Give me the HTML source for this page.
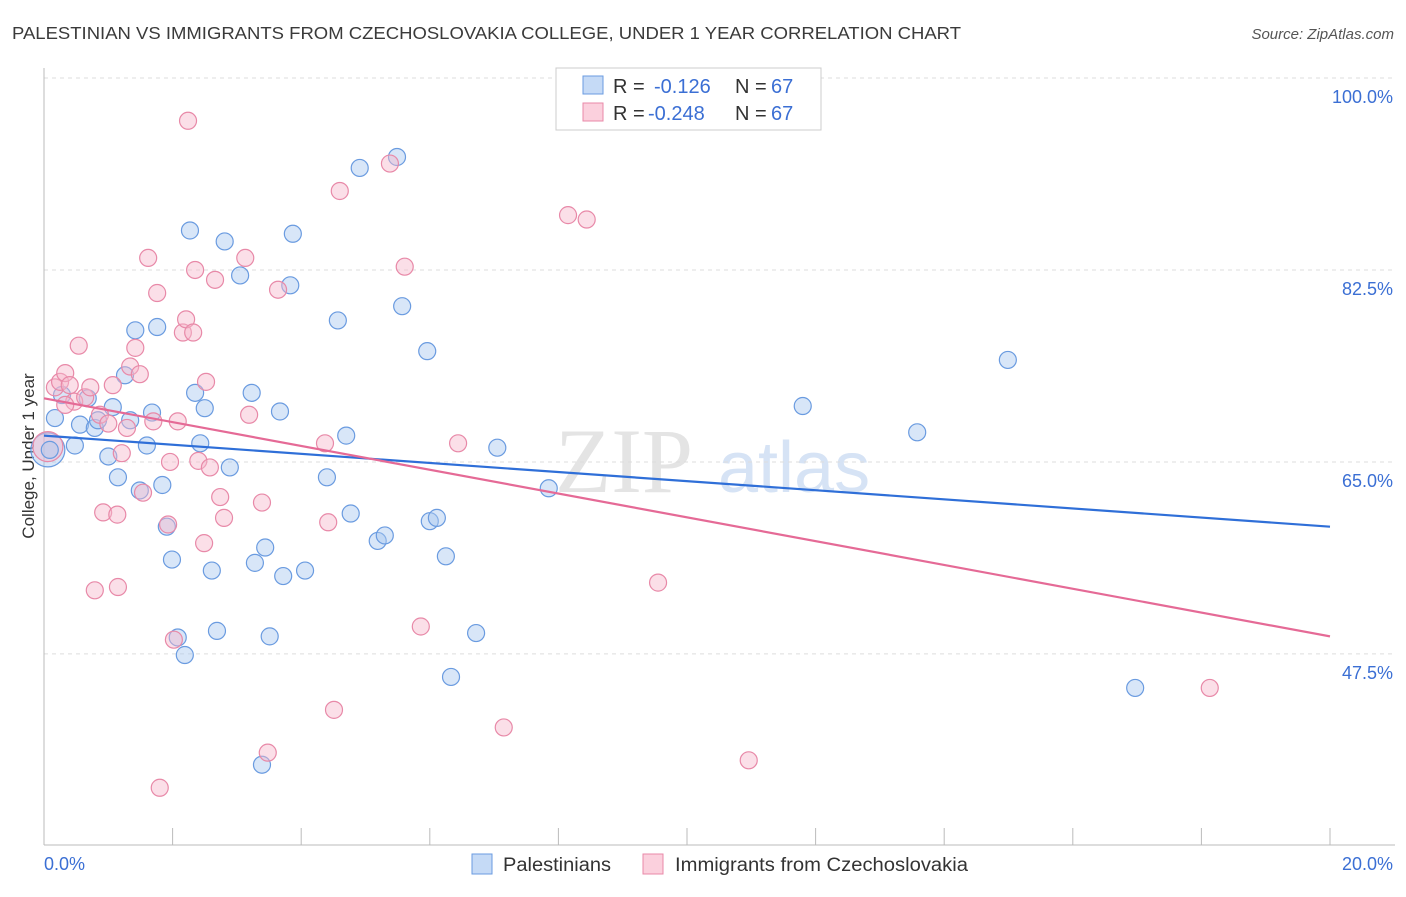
<!DOCTYPE html>
<html><head><meta charset="utf-8"><style>
body{margin:0;background:#fff;font-family:"Liberation Sans",sans-serif;}
</style></head><body>
<svg id="chart" width="1406" height="892" xmlns="http://www.w3.org/2000/svg" font-family="Liberation Sans, sans-serif">
<text x="12" y="39" font-size="17.5" fill="#3a3a3a" textLength="949" lengthAdjust="spacingAndGlyphs">PALESTINIAN VS IMMIGRANTS FROM CZECHOSLOVAKIA COLLEGE, UNDER 1 YEAR CORRELATION CHART</text>
<text x="1394" y="39" font-size="15" fill="#555" font-style="italic" text-anchor="end">Source: ZipAtlas.com</text>
<g><text x="555" y="492" font-size="92" fill="#e4e4e4" font-family="Liberation Serif, serif">ZIP</text><text x="718" y="492" font-size="72" fill="#d6e3f5">atlas</text></g>
<g id="grid"></g><g id="axes"></g>
<text transform="translate(34,456) rotate(-90)" font-size="17" fill="#333" text-anchor="middle">College, Under 1 year</text>
<g id="points"></g><g id="trends"></g>
<g>
<rect x="556" y="68" width="265" height="62" fill="#fff" stroke="#ccc"/>
<rect x="583" y="76" width="20" height="18" fill="#c5daf6" stroke="#6a9be0"/>
<rect x="583" y="103" width="20" height="18" fill="#fbd0dd" stroke="#e889a8"/>
<text x="613" y="93" font-size="20" fill="#333">R = </text><text x="654" y="93" font-size="20" fill="#3b6fd4">-0.126</text>
<text x="735" y="93" font-size="20" fill="#333">N = </text><text x="771" y="93" font-size="20" fill="#3b6fd4">67</text>
<text x="613" y="120" font-size="20" fill="#333">R = </text><text x="648" y="120" font-size="20" fill="#3b6fd4">-0.248</text>
<text x="735" y="120" font-size="20" fill="#333">N = </text><text x="771" y="120" font-size="20" fill="#3b6fd4">67</text>
</g>
<g>
<rect x="472" y="854" width="20" height="20" fill="#c5daf6" stroke="#6a9be0"/>
<text x="503" y="871" font-size="19" fill="#333" textLength="108" lengthAdjust="spacingAndGlyphs">Palestinians</text>
<rect x="643" y="854" width="20" height="20" fill="#fbd0dd" stroke="#e889a8"/>
<text x="675" y="871" font-size="19" fill="#333" textLength="293" lengthAdjust="spacingAndGlyphs">Immigrants from Czechoslovakia</text>
</g>
</svg>
<script>
const yTicks=[100,82.5,65,47.5];
const yTickLabels=["100.0%","82.5%","65.0%","47.5%"];
const xTicks=[0,2,4,6,8,10,12,14,16,18,20];
const blueX=[0.09,0.17,0.28,0.48,0.56,0.68,0.79,0.84,1.0,1.07,1.15,1.26,1.34,1.42,1.49,1.60,1.68,1.76,1.84,1.91,1.99,2.08,2.19,2.27,2.35,2.43,2.50,2.61,2.69,2.81,2.89,3.05,3.23,3.28,3.44,3.51,3.67,3.72,3.83,3.87,4.06,4.40,4.57,4.70,4.77,4.91,5.19,5.30,5.49,5.57,5.96,6.00,6.11,6.25,6.33,6.72,7.05,7.85,11.80,13.58,14.99,16.97,3.39];
const blueY=[66.1,69.0,71.1,66.5,68.4,70.8,68.1,68.8,65.5,70.0,63.6,72.9,68.8,77.0,62.4,66.5,69.5,77.3,62.9,59.1,56.1,49.0,47.4,86.1,71.3,66.7,69.9,55.1,49.6,85.1,64.5,82.0,71.3,55.8,57.2,49.1,69.6,54.6,81.1,85.8,55.1,63.6,77.9,67.4,60.3,91.8,57.8,58.3,92.8,79.2,75.1,59.6,59.9,56.4,45.4,49.4,66.3,62.6,70.1,67.7,74.3,44.4,37.4];
const pinkX=[0.17,0.25,0.33,0.40,0.47,0.54,0.64,0.72,0.79,0.87,0.92,1.0,1.07,1.14,1.15,1.21,1.29,1.34,1.42,1.49,1.54,1.62,1.70,1.76,1.80,1.93,1.96,2.02,2.08,2.16,2.21,2.24,2.32,2.35,2.40,2.49,2.52,2.58,2.66,2.74,2.80,3.13,3.19,3.39,3.64,3.48,4.37,4.42,4.51,4.60,5.38,5.61,5.86,6.44,7.15,8.15,8.44,9.55,10.96,18.13,0.33];
const pinkY=[71.8,72.3,73.1,72.0,70.5,75.6,70.9,71.8,53.3,69.3,60.4,68.5,72.0,60.2,53.6,65.8,68.1,73.7,75.4,73.0,62.2,83.6,68.7,80.4,35.3,59.3,65.0,48.8,68.7,76.8,78.0,96.1,76.8,82.5,65.1,57.6,72.3,64.5,81.6,61.8,59.9,83.6,69.3,61.3,80.7,38.5,66.7,59.5,42.4,89.7,92.2,82.8,50.0,66.7,40.8,87.5,87.1,54.0,37.8,44.4,70.2];
const bigX=[0.06], bigBlueY=[66.1], bigPinkY=[66.4];
const trendX=[0,20], blueTrend=[67.4,59.1], pinkTrend=[70.8,49.1];
const NS="http://www.w3.org/2000/svg";
const sx=v=>44+v*64.3, sy=v=>78+(100-v)*10.97;
function mk(tag,attrs,parent){const e=document.createElementNS(NS,tag);for(const k in attrs)e.setAttribute(k,attrs[k]);parent.appendChild(e);return e;}
const grid=document.getElementById('grid'),axes=document.getElementById('axes'),pts=document.getElementById('points'),tr=document.getElementById('trends');
yTicks.forEach((t,i)=>{
 const l=mk('line',{x1:44,x2:1395,y1:sy(t),y2:sy(t),stroke:'#ddd','stroke-dasharray':'4,4'},grid);
 
 
 const tx=mk('text',{x:1393,y:sy(t)+25,'font-size':18,fill:'#3b6fd4','text-anchor':'end'},axes);
 tx.textContent=yTickLabels[i];
 
 
});
let a=mk('line',{x1:44,x2:44,y1:68,y2:845,stroke:'#bbb'},axes);


a=mk('line',{x1:44,x2:1395,y1:845,y2:845,stroke:'#bbb'},axes);


xTicks.forEach(t=>{const l=mk('line',{x1:sx(t),x2:sx(t),y1:828,y2:845,stroke:'#bbb'},axes);
 
 });
let xl=mk('text',{x:44,y:870,'font-size':18,fill:'#3b6fd4'},axes);xl.textContent='0.0%';


xl=mk('text',{x:1393,y:870,'font-size':18,fill:'#3b6fd4','text-anchor':'end'},axes);xl.textContent='20.0%';


function dots(X,Y,fill,stroke,r,name){X.forEach((x,i)=>{const c=mk('circle',{cx:sx(x),cy:sy(Y[i]),r:r,fill:fill,'fill-opacity':0.45,stroke:stroke,'stroke-width':1.2},pts);
 
 });}
dots(bigX,bigBlueY,'#a9c8f0','#6a9be0',17,'palestinian-point');
dots(bigX,bigPinkY,'#f7b9cc','#e889a8',15,'czech-point');
dots(blueX,blueY,'#a9c8f0','#6a9be0',8.5,'palestinian-point');
dots(pinkX,pinkY,'#f7b9cc','#e889a8',8.5,'czech-point');
let t=mk('line',{x1:sx(trendX[0]),x2:sx(trendX[1]),y1:sy(blueTrend[0]),y2:sy(blueTrend[1]),stroke:'#2f6fd8','stroke-width':2.2},tr);


t=mk('line',{x1:sx(trendX[0]),x2:sx(trendX[1]),y1:sy(pinkTrend[0]),y2:sy(pinkTrend[1]),stroke:'#e56a96','stroke-width':2.2},tr);


</script>
</body></html>
